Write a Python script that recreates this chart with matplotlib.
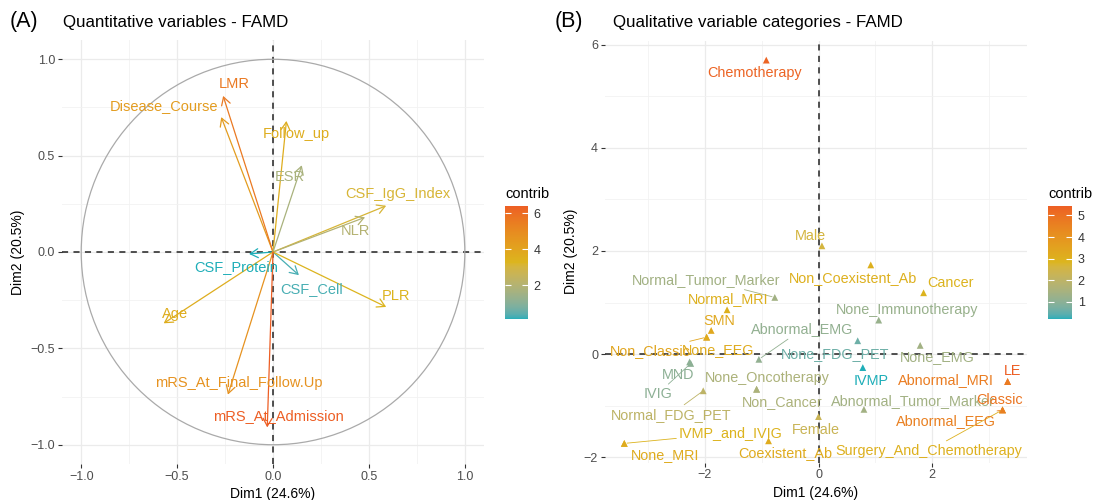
import numpy as np
import matplotlib
matplotlib.use('Agg')
import matplotlib.pyplot as plt
import matplotlib.colors as mcolors
from matplotlib.patches import Circle, FancyArrowPatch

plt.rcParams['font.family'] = ['Liberation Sans', 'DejaVu Sans']

# ---------------- data ----------------
# (A) quantitative variables: arrow tips and contributions
var_names = ['Disease_Course', 'LMR', 'Follow_up', 'ESR', 'CSF_IgG_Index', 'NLR',
             'CSF_Protein', 'CSF_Cell', 'PLR', 'Age',
             'mRS_At_Final_Follow.Up', 'mRS_At_Admission']
var_x = [-0.27, -0.26, 0.07, 0.15, 0.59, 0.48, -0.125, 0.135, 0.59, -0.57, -0.235, -0.03]
var_y = [0.70, 0.81, 0.68, 0.45, 0.24, 0.18, -0.01, -0.12, -0.285, -0.37, -0.74, -0.91]
var_contrib = [4.3, 5.6, 3.6, 1.7, 3.1, 2.0, 0.12, 0.25, 3.3, 3.6, 4.7, 6.4]
# label positions (repelled)
var_lab_x = [-0.57, -0.20, 0.12, 0.09, 0.65, 0.43, -0.19, 0.20, 0.64, -0.51, -0.18, 0.03]
var_lab_y = [0.76, 0.87, 0.61, 0.39, 0.30, 0.11, -0.08, -0.19, -0.23, -0.32, -0.68, -0.85]

# (B) qualitative variable categories
cat_names = ['Chemotherapy', 'Male', 'Non_Coexistent_Ab', 'Cancer', 'Normal_Tumor_Marker',
             'Normal_MRI', 'None_Immunotherapy', 'SMN', 'Non_Classic', 'None_EEG',
             'Abnormal_EMG', 'None_FDG_PET', 'None_EMG', 'MND', 'IVIG', 'IVMP',
             'None_Oncotherapy', 'Non_Cancer', 'Normal_FDG_PET', 'Abnormal_Tumor_Marker',
             'Female', 'Coexistent_Ab', 'IVMP_and_IVIG', 'None_MRI',
             'Surgery_And_Chemotherapy', 'LE', 'Abnormal_MRI', 'Classic', 'Abnormal_EEG']
cat_x = [-0.92, 0.06, 0.92, 1.85, -0.77, -1.61, 1.06, -1.89, -1.97, -1.97,
         -1.05, 0.69, 1.79, -2.27, -2.25, 0.78, -1.09, -1.09, -2.03, 0.80,
         0.00, -0.88, -3.42, -3.42, 3.24, 3.33, 3.33, 3.24, 3.24]
cat_y = [5.70, 2.10, 1.73, 1.19, 1.10, 0.86, 0.66, 0.46, 0.33, 0.33,
         -0.10, 0.26, 0.17, -0.15, -0.18, -0.26, -0.68, -0.68, -0.71, -1.07,
         -1.21, -1.68, -1.73, -1.73, -1.08, -0.53, -0.53, -1.08, -1.08]
cat_contrib = [5.3, 2.6, 3.0, 2.9, 1.4, 3.0, 1.2, 3.3, 3.4, 3.2,
               1.1, 0.6, 1.4, 1.0, 1.0, 0.2, 1.6, 1.6, 2.0, 1.4,
               2.3, 3.2, 2.9, 3.2, 3.0, 5.44, 4.7, 4.9, 4.6]
cat_lab_x = [-1.12, -0.15, 0.61, 2.32, -1.98, -1.60, 1.56, -1.75, -2.97, -1.77,
             -0.29, 0.30, 2.09, -2.47, -2.83, 0.92, -0.90, -0.64, -2.60, 1.67,
             -0.05, -0.58, -1.54, -2.71, 1.94, 3.42, 2.25, 3.18, 2.25]
cat_lab_y = [5.45, 2.30, 1.48, 1.38, 1.44, 1.06, 0.86, 0.64, 0.06, 0.08,
             0.48, 0.00, -0.06, -0.41, -0.77, -0.52, -0.47, -0.92, -1.17, -0.91,
             -1.47, -1.92, -1.53, -1.95, -1.87, -0.32, -0.50, -0.89, -1.29]
segment_names = ['Normal_Tumor_Marker', 'Abnormal_EMG', 'Non_Classic', 'IVIG',
                 'Normal_FDG_PET', 'IVMP_and_IVIG', 'Surgery_And_Chemotherapy',
                 'Abnormal_EEG', 'Classic']

grad_colors = ['#00AFBB', '#E7B800', '#FC4E07']


# ---------------- colour ramp in Lab space (like ggplot) ----------------
M = np.array([[0.4124, 0.3576, 0.1805],
              [0.2126, 0.7152, 0.0722],
              [0.0193, 0.1192, 0.9505]])
WHITE = np.array([0.95047, 1.0, 1.08883])


def hex2lab(h):
    rgb = np.array(mcolors.to_rgb(h))
    lin = np.where(rgb <= 0.04045, rgb / 12.92, ((rgb + 0.055) / 1.055) ** 2.4)
    xyz = M @ lin / WHITE
    f = np.where(xyz > 0.008856, np.cbrt(xyz), 7.787 * xyz + 16 / 116)
    return np.array([116 * f[1] - 16, 500 * (f[0] - f[1]), 200 * (f[1] - f[2])])


def lab2rgb(lab):
    fy = (lab[0] + 16) / 116
    f = np.array([fy + lab[1] / 500, fy, fy - lab[2] / 200])
    xyz = np.where(f ** 3 > 0.008856, f ** 3, (f - 16 / 116) / 7.787) * WHITE
    lin = np.linalg.solve(M, xyz)
    lin = np.clip(lin, 0, 1)
    rgb = np.where(lin <= 0.0031308, 12.92 * lin, 1.055 * lin ** (1 / 2.4) - 0.055)
    return np.clip(rgb, 0, 1)


labs = [hex2lab(c) for c in grad_colors]
ramp = []
for t in np.linspace(0, 1, 256):
    s = t * (len(labs) - 1)
    i = min(int(s), len(labs) - 2)
    u = s - i
    rgb = lab2rgb(labs[i] * (1 - u) + labs[i + 1] * u)
    # the reference looks a little washed out
    ramp.append(0.82 * rgb + 0.18 * 0.66)
cmap = mcolors.ListedColormap(ramp)


# ---------------- helpers ----------------
def style_axes(ax, major, minor):
    ax.set_xticks(major[0])
    ax.set_yticks(major[1])
    ax.set_xticks(minor[0], minor=True)
    ax.set_yticks(minor[1], minor=True)
    ax.grid(True, which='major', color='#EBEBEB', lw=0.9, zorder=0)
    ax.grid(True, which='minor', color='#F2F2F2', lw=0.6, zorder=0)
    ax.set_axisbelow(True)
    for sp in ax.spines.values():
        sp.set_visible(False)
    ax.tick_params(which='major', length=3, width=0.8, color='#333333',
                   labelsize=9, labelcolor='#4D4D4D', pad=2)
    ax.tick_params(which='minor', length=0)
    ax.axhline(0, color='#222222', lw=1.1, ls=(0, (4, 3.5)), zorder=1)
    ax.axvline(0, color='#222222', lw=1.1, ls=(0, (4, 3.5)), zorder=1)
    ax.set_xlabel('Dim1 (24.6%)', fontsize=10, labelpad=3)
    ax.set_ylabel('Dim2 (20.5%)', fontsize=10, labelpad=4)


def add_colorbar(fig, rect, norm, ticks):
    cax = fig.add_axes(rect)
    sm = plt.cm.ScalarMappable(norm=norm, cmap=cmap)
    cb = fig.colorbar(sm, cax=cax, ticks=ticks)
    cb.outline.set_visible(False)
    cax.tick_params(direction='in', length=4, width=0.8, color='white',
                    left=True, right=True, labelsize=9, labelcolor='#333333', pad=4)
    cax.set_title('contrib', fontsize=10.5, loc='left', pad=6)
    return cb


fig = plt.figure(figsize=(10.94, 5.0), dpi=100)

# ---------------- (A) ----------------
ax1 = fig.add_axes([0.0567, 0.072, 0.3857, 0.848])
ax1.set_xlim(-1.1, 1.1)
ax1.set_ylim(-1.1, 1.1)
style_axes(ax1, ([-1, -0.5, 0, 0.5, 1], [-1, -0.5, 0, 0.5, 1]),
           ([-0.75, -0.25, 0.25, 0.75], [-0.75, -0.25, 0.25, 0.75]))
ax1.add_patch(Circle((0, 0), 1, fill=False, color='#AAAAAA', lw=0.9, zorder=2))

norm1 = mcolors.Normalize(min(var_contrib), max(var_contrib))
for name, x, y, c, lx, ly in zip(var_names, var_x, var_y, var_contrib, var_lab_x, var_lab_y):
    col = cmap(norm1(c))
    ax1.add_patch(FancyArrowPatch((0, 0), (x, y), arrowstyle='->,head_length=0.4,head_width=0.23',
                                  mutation_scale=14, lw=0.9, color=col, shrinkA=0, shrinkB=0,
                                  zorder=3))
    ax1.text(lx, ly, name, color=col, fontsize=10.5, ha='center', va='center', zorder=4)

add_colorbar(fig, [0.4616, 0.362, 0.021, 0.226], norm1, [2, 4, 6])

# ---------------- (B) ----------------
ax2 = fig.add_axes([0.553, 0.075, 0.3857, 0.844])
ax2.set_xlim(-3.76, 3.67)
ax2.set_ylim(-2.10, 6.08)
style_axes(ax2, ([-2, 0, 2], [-2, 0, 2, 4, 6]),
           ([-3, -1, 1, 3], [-1, 1, 3, 5]))

norm2 = mcolors.Normalize(min(cat_contrib), max(cat_contrib))
ax2.scatter(cat_x, cat_y, c=cat_contrib, cmap=cmap, norm=norm2, marker='^', s=24,
            linewidths=0, zorder=3)
for name, x, y, c, lx, ly in zip(cat_names, cat_x, cat_y, cat_contrib, cat_lab_x, cat_lab_y):
    col = cmap(norm2(c))
    if name in segment_names:
        ax2.annotate(name, xy=(x, y), xytext=(lx, ly), color=col, fontsize=10.4,
                     ha='center', va='center', zorder=4,
                     arrowprops=dict(arrowstyle='-', color=col, lw=0.6,
                                     shrinkA=0, shrinkB=2))
    else:
        ax2.text(lx, ly, name, color=col, fontsize=10.4, ha='center', va='center', zorder=4)

add_colorbar(fig, [0.958, 0.362, 0.022, 0.226], norm2, [1, 2, 3, 4, 5])

# panel tags and titles
fig.text(0.009, 0.956, '(A)', fontsize=15.5, va='center')
fig.text(0.058, 0.956, 'Quantitative variables - FAMD', fontsize=12.2, va='center')
fig.text(0.507, 0.956, '(B)', fontsize=15.5, va='center')
fig.text(0.560, 0.956, 'Qualitative variable categories - FAMD', fontsize=12.2, va='center')

fig.savefig('out.png', dpi=100)
